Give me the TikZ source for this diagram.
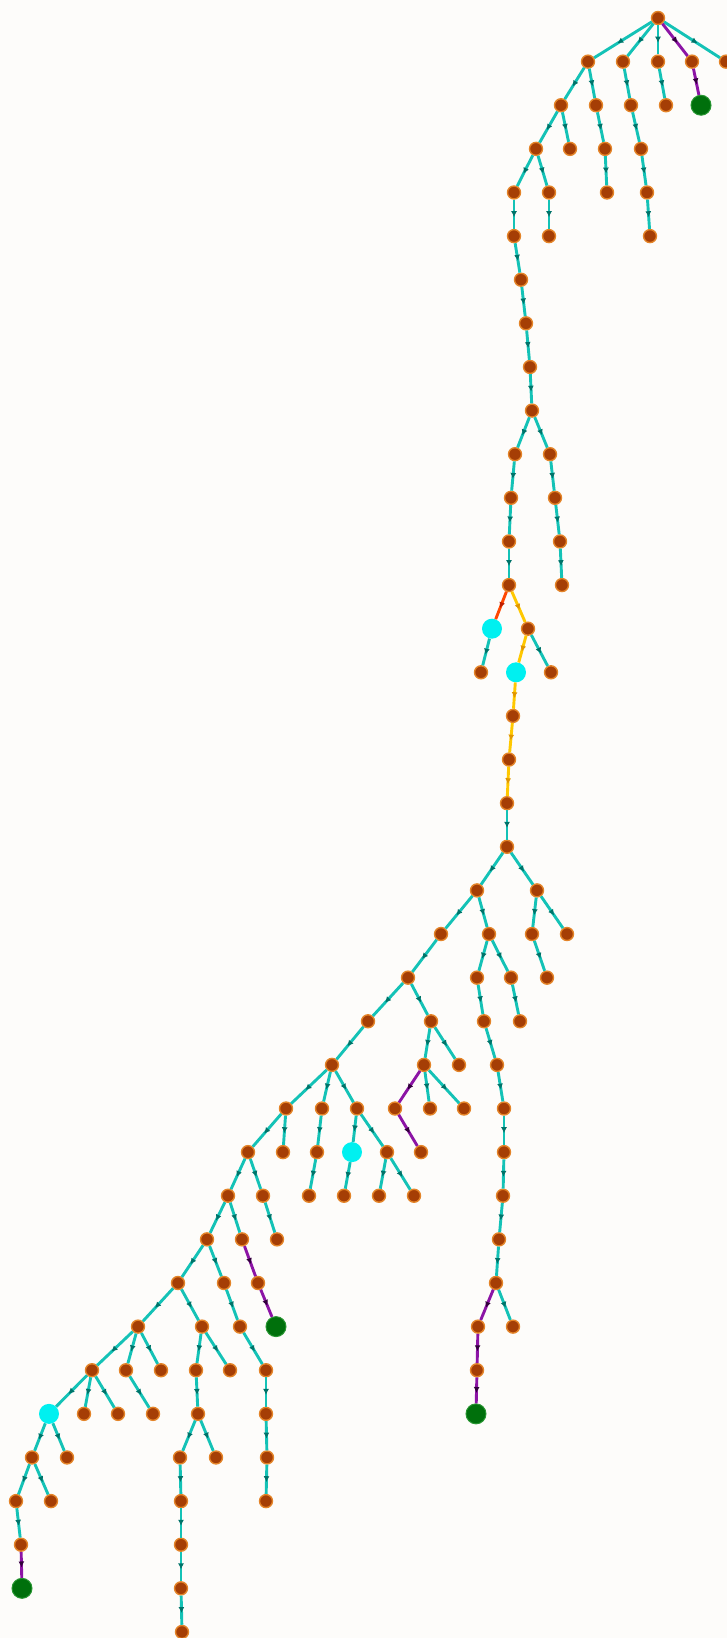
\documentclass[tikz,border=0pt]{standalone}
\usetikzlibrary{arrows.meta,decorations.markings}
\definecolor{bgcol}{RGB}{253,252,250}
\definecolor{tgline}{RGB}{20,194,182}
\definecolor{tgdark}{RGB}{0,115,105}
\definecolor{prline}{RGB}{140,20,165}
\definecolor{prdark}{RGB}{50,0,60}
\definecolor{ylline}{RGB}{255,200,0}
\definecolor{yldark}{RGB}{225,150,0}
\definecolor{rdline}{RGB}{255,70,0}
\definecolor{rddark}{RGB}{190,30,0}
\definecolor{bnfill}{RGB}{165,62,5}
\definecolor{bnrim}{RGB}{228,132,40}
\definecolor{cyfill}{RGB}{0,240,240}
\definecolor{gnfill}{RGB}{0,112,12}
\definecolor{gnrim}{RGB}{40,150,50}

\tikzset{
  midarrow/.style={postaction={decorate,decoration={markings,
      mark=at position .6 with {\arrow{Latex[length=6pt,width=6pt,color=#1]}}}}},
  link/.style={line width=2.9pt,draw=tgline,midarrow=tgdark},
  plink/.style={line width=2.9pt,draw=prline,midarrow=prdark},
  ylink/.style={line width=2.9pt,draw=ylline,midarrow=yldark},
  rlink/.style={line width=2.9pt,draw=rdline,midarrow=rddark},
  dot/.style={circle,inner sep=0pt,minimum size=13pt,fill=bnfill,draw=bnrim,line width=1.4pt},
  hub/.style={circle,inner sep=0pt,minimum size=20pt,fill=cyfill},
  goal/.style={circle,inner sep=0pt,minimum size=20pt,fill=gnfill,draw=gnrim,line width=1pt}
}

\begin{document}
\begin{tikzpicture}[x=1pt,y=-43.62pt]
  \useasboundingbox[fill=bgcol] (0pt,18pt) rectangle (727pt,-1620pt);
  % plain vertices, level/x positions
  \foreach \l/\xs in {0/{658},1/{588,623,658,692,726},2/{561,596,631,666},
      3/{536,570,605,641},4/{514,549,607,647},5/{514,549,650},6/{521},7/{526},
      8/{530},9/{532},10/{515,550},11/{511,555},12/{509,560},13/{509,562},
      14/{528},15/{481,551},16/{513},17/{509},18/{507},19/{507},20/{477,537},
      21/{441,489,532,567},22/{408,477,511,547},23/{368,431,484,520},
      24/{332,424,459,497},25/{286,322,357,395,430,464,504},
      26/{248,283,317,387,421,504},27/{228,263,309,344,379,414,503},
      28/{207,242,277,499},29/{178,224,258,496},30/{138,202,240,478,513},
      31/{92,126,161,196,230,266,477},32/{84,118,153,198,266},
      33/{32,67,180,216,267},34/{16,51,181,266},35/{21,181},36/{181},37/{182}}
    \foreach \x in \xs
      \node[dot] (v\l-\x) at (\x,\l) {};
  % cyan vertices
  \foreach \l/\x in {14/492,15/516,26/352,32/49}
    \node[hub] (v\l-\x) at (\x,\l) {};
  % green vertices
  \foreach \l/\x in {2/701,30/276,32/476,36/22}
    \node[goal] (v\l-\x) at (\x,\l) {};

  % teal links: level/parent/child
  \foreach \l/\a/\b [evaluate=\l as \m using int(\l+1)] in {
      0/658/588,0/658/623,0/658/658,0/658/726,
      1/588/561,1/588/596,1/623/631,1/658/666,
      2/561/536,2/561/570,2/596/605,2/631/641,
      3/536/514,3/536/549,3/605/607,3/641/647,
      4/514/514,4/549/549,4/647/650,
      5/514/521,6/521/526,7/526/530,8/530/532,
      9/532/515,9/532/550,10/515/511,10/550/555,
      11/511/509,11/555/560,12/509/509,12/560/562,
      14/492/481,14/528/551,18/507/507,
      19/507/477,19/507/537,
      20/477/441,20/477/489,20/537/532,20/537/567,
      21/441/408,21/489/477,21/489/511,21/532/547,
      22/408/368,22/408/431,22/477/484,22/511/520,
      23/368/332,23/431/424,23/431/459,23/484/497,
      24/332/286,24/332/322,24/332/357,24/424/430,24/424/464,24/497/504,
      25/286/248,25/286/283,25/322/317,25/357/352,25/357/387,25/504/504,
      26/248/228,26/248/263,26/317/309,26/352/344,26/387/379,26/387/414,26/504/503,
      27/228/207,27/228/242,27/263/277,27/503/499,
      28/207/178,28/207/224,28/499/496,
      29/178/138,29/178/202,29/224/240,29/496/513,
      30/138/92,30/138/126,30/138/161,30/202/196,30/202/230,30/240/266,
      31/92/49,31/92/84,31/92/118,31/126/153,31/196/198,31/266/266,
      32/49/32,32/49/67,32/198/180,32/198/216,32/266/267,
      33/32/16,33/32/51,33/180/181,33/267/266,
      34/16/21,34/181/181,35/181/181,36/181/182}
    \draw[link] (v\l-\a) -- (v\m-\b);
  % purple links
  \foreach \l/\a/\b [evaluate=\l as \m using int(\l+1)] in {
      0/658/692,1/692/701,24/424/395,25/395/421,28/242/258,29/258/276,
      29/496/478,30/478/477,31/477/476,35/21/22}
    \draw[plink] (v\l-\a) -- (v\m-\b);
  % yellow path
  \foreach \l/\a/\b [evaluate=\l as \m using int(\l+1)] in {
      13/509/528,14/528/516,15/516/513,16/513/509,17/509/507}
    \draw[ylink] (v\l-\a) -- (v\m-\b);
  % red link
  \draw[rlink] (v13-509) -- (v14-492);
\end{tikzpicture}
\end{document}
